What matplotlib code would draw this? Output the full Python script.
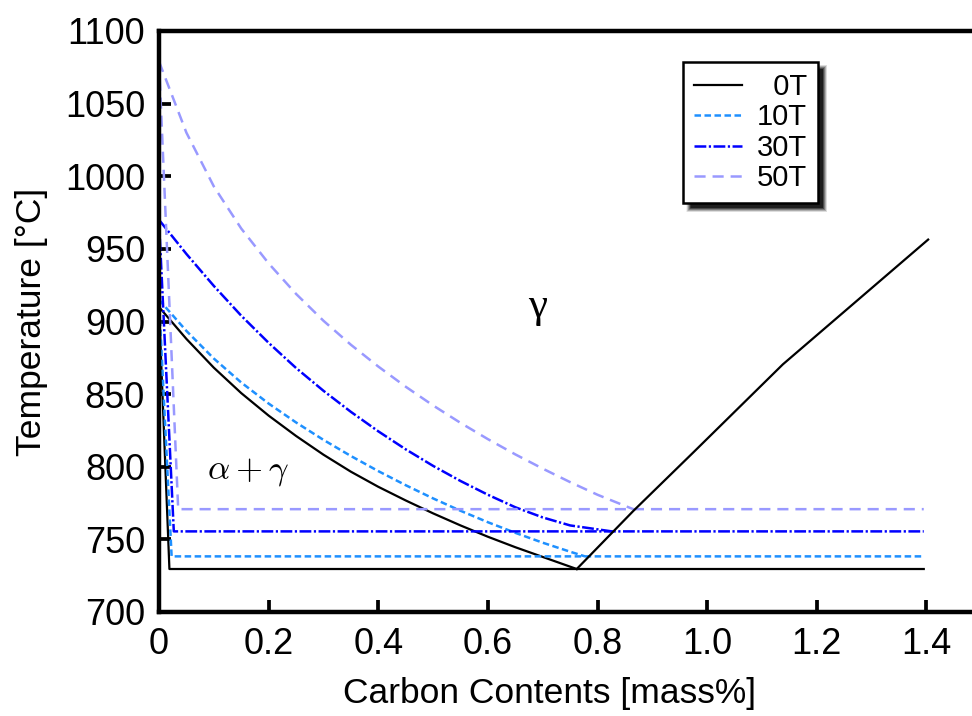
import matplotlib
matplotlib.use('Agg')
import matplotlib.pyplot as plt
from matplotlib.patches import Rectangle

plt.rcParams['font.family'] = ['Liberation Sans', 'DejaVu Sans']
plt.rcParams['lines.scale_dashes'] = False
plt.rcParams['mathtext.fontset'] = 'cm'

# field strengths
labels = ['  0T', '10T', '30T', '50T']
colors = ['black', '#1E90FF', '#0000FF', '#9999FF']

# A3 lines (gamma / alpha+gamma boundary), carbon mass% vs temperature
a3_x = [
    [0, 0.05, 0.1, 0.15, 0.2, 0.25, 0.3, 0.35, 0.4, 0.45, 0.5, 0.55, 0.6, 0.65, 0.7, 0.762],
    [0, 0.05, 0.1, 0.15, 0.2, 0.25, 0.3, 0.35, 0.4, 0.45, 0.5, 0.55, 0.6, 0.65, 0.7, 0.75, 0.777],
    [0, 0.05, 0.1, 0.15, 0.2, 0.25, 0.3, 0.35, 0.4, 0.45, 0.5, 0.55, 0.6, 0.65, 0.7, 0.75, 0.826],
    [0, 0.05, 0.1, 0.15, 0.2, 0.25, 0.3, 0.35, 0.4, 0.45, 0.5, 0.55, 0.6, 0.65, 0.7, 0.75, 0.8, 0.865],
]
a3_t = [
    [910, 888, 868.2, 850.7, 835.2, 821.2, 808.3, 796.6, 786.2, 776.8, 767.9, 759.6, 751.8,
     744.6, 737.9, 729.6],
    [915, 893.5, 874.5, 858, 843.5, 830.5, 818.5, 807.4, 797, 787.3, 778.2, 769.7, 761.8,
     754.5, 747.7, 741.5, 738.3],
    [970, 946.5, 924.5, 904, 885.3, 868, 852.3, 837.8, 824.4, 812, 800.6, 790.2, 780.7,
     772.1, 765.1, 759.6, 755.5],
    [1079, 1030, 993, 964, 940, 919, 900.5, 884, 869, 855.1, 842.2, 830.2, 819, 808.5,
     798.7, 789.4, 780.7, 770.8],
]

# alpha boundary end (carbon at eutectoid temp) and eutectoid temperatures
alpha_end = [0.019, 0.023, 0.027, 0.035]
eutectoid_t = [729.6, 738.3, 755.5, 770.8]
line_end = 1.395

# Acm line, 0T only
acm_x = [0.762, 0.865, 0.975, 1.138, 1.403]
acm_t = [729.6, 769.5, 810, 870.5, 956.4]

styles = [
    dict(linestyle='-', linewidth=1.6),
    dict(linestyle=(0, (4.7, 2.5)), linewidth=1.8),
    dict(linestyle=(0, (8.5, 1.8, 1.6, 1.8)), linewidth=1.8),
    dict(linestyle=(0, (8, 5)), linewidth=1.8),
]

fig = plt.figure(figsize=(9.72, 7.16), dpi=100)
ax = fig.add_axes([159 / 972, 104 / 716, 813 / 972, 581 / 716])

for i in range(4):
    ax.plot(a3_x[i], a3_t[i], color=colors[i], label=labels[i], **styles[i])
    ax.plot([0, alpha_end[i], line_end],
            [a3_t[i][0], eutectoid_t[i], eutectoid_t[i]],
            color=colors[i], **styles[i])
ax.plot(acm_x, acm_t, color='black', **styles[0])

ax.set_xlim(0, 1.483)
ax.set_ylim(700, 1100)
ax.set_xticks([0, 0.2, 0.4, 0.6, 0.8, 1.0, 1.2, 1.4])
ax.set_xticklabels(['0', '0.2', '0.4', '0.6', '0.8', '1.0', '1.2', '1.4'])
ax.set_yticks(range(700, 1101, 50))
ax.tick_params(direction='in', length=8.5, width=2.7, labelsize=26)
ax.tick_params(axis='x', pad=11)
ax.tick_params(axis='y', pad=10)
for s in ['left', 'bottom', 'top']:
    ax.spines[s].set_linewidth(3.2)
ax.spines['right'].set_visible(False)

ax.set_xlabel('Carbon Contents [mass%]', fontsize=25.5)
ax.set_ylabel('Temperature [°C]', fontsize=25.5)
ax.xaxis.set_label_coords(0.48, -0.112)
ax.yaxis.set_label_coords(-0.137, 0.5)

ax.text(0.69, 910, 'γ', fontsize=31, ha='center', va='center',
        family=['Liberation Serif', 'DejaVu Serif'])
ax.text(0.163, 797, r'$\alpha + \gamma$', fontsize=25, ha='center', va='center')

leg = ax.legend(loc='upper left', bbox_to_anchor=(683 / 972, 1 - 62 / 716),
                bbox_transform=fig.transFigure, fontsize=21, frameon=True,
                fancybox=False, edgecolor='black', framealpha=1,
                handlelength=1.65, handletextpad=0.5, labelspacing=0.08,
                borderpad=0.38, borderaxespad=0)
leg.get_frame().set_linewidth(1.8)
leg.set_zorder(10)

# soft drop shadow behind the legend box
fig.canvas.draw()
bb = leg.get_window_extent()
for k, a in zip(range(10, 0, -1), [0.06, 0.08, 0.1, 0.12, 0.14, 0.17, 0.2, 0.24, 0.3, 0.4]):
    off = 6
    r = Rectangle(((bb.x0 + off - k * 0.5 + 2) / 972, (bb.y0 - off - k * 0.5 + 2) / 716),
                  (bb.width + k - 4) / 972, (bb.height + k - 4) / 716,
                  transform=fig.transFigure, facecolor='black', edgecolor='none',
                  alpha=a, zorder=9, clip_on=False)
    ax.add_patch(r)

fig.savefig('out.png', dpi=100)
